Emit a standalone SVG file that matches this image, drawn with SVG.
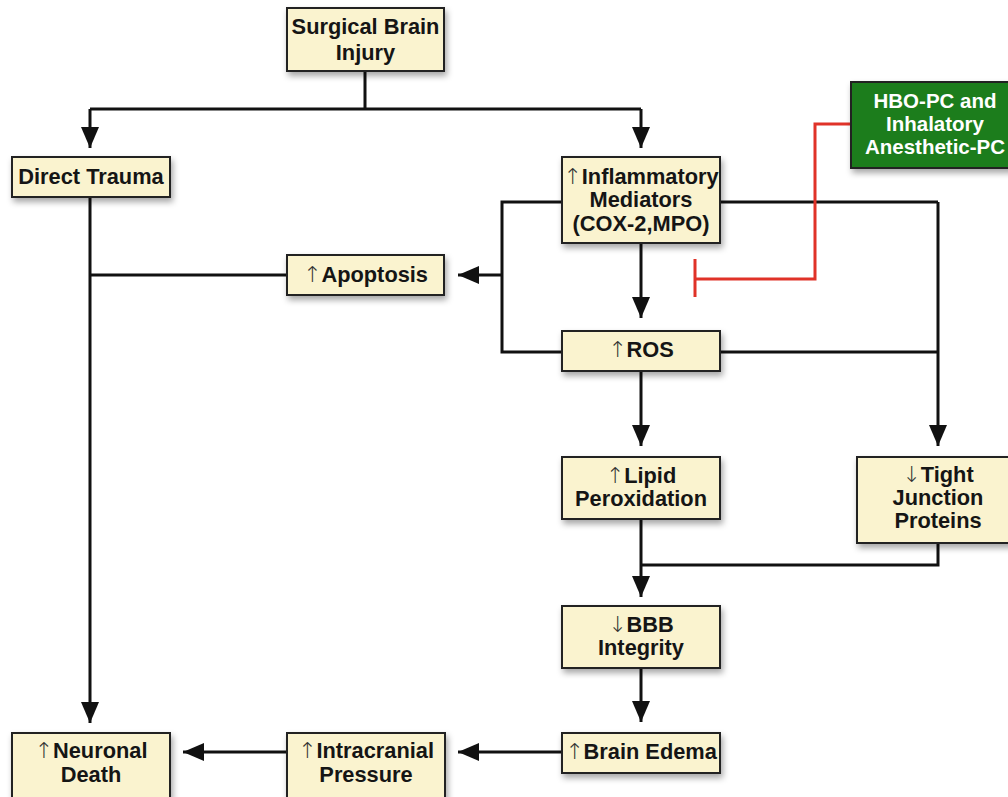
<svg xmlns="http://www.w3.org/2000/svg" width="1008" height="797" viewBox="0 0 1008 797">
<defs>
<filter id="sh" x="-10%" y="-10%" width="130%" height="140%">
<feDropShadow dx="2" dy="4" stdDeviation="3" flood-color="#000" flood-opacity="0.35"/>
</filter>
<marker id="ah" markerUnits="userSpaceOnUse" markerWidth="22" markerHeight="18" refX="21" refY="9" orient="auto">
<path d="M0,0 L21,9 L0,18 z" fill="#111"/>
</marker>
<style>
.box{fill:#faf3cf;stroke:#222;stroke-width:2;filter:url(#sh)}
.gbox{fill:#1a7d1f;stroke:#222;stroke-width:2;filter:url(#sh)}
text{font-family:"Liberation Sans",Arial,sans-serif;font-weight:bold;font-size:21.8px;fill:#151515;text-anchor:middle}
.w{fill:#fff;font-size:20.5px}
.ar{font-family:"DejaVu Sans",sans-serif;font-weight:200;font-size:22px;fill:#333}
.c{fill:none;stroke:#111;stroke-width:3}
.ca{fill:none;stroke:#111;stroke-width:3;marker-end:url(#ah)}
.r{fill:none;stroke:#e03228;stroke-width:3}
</style>
</defs>
<g id="connectors">
<path class="c" d="M365,71 V109 M90,109 H641"/>
<path class="ca" d="M90,109 V148"/>
<path class="ca" d="M641,109 V148"/>
<path class="ca" d="M90,197 V723"/>
<path class="c" d="M90,275 H287"/>
<path class="c" d="M562,202 H502 V352 H562"/>
<path class="ca" d="M502,275 H458"/>
<path class="ca" d="M641,243 V318"/>
<path class="c" d="M720,202 H938 M720,352 H938"/>
<path class="ca" d="M938,202 V446"/>
<path class="ca" d="M641,370 V446"/>
<path class="ca" d="M641,519 V597"/>
<path class="c" d="M938,543 V565 H641"/>
<path class="ca" d="M641,668 V722"/>
<path class="ca" d="M562,752 H458"/>
<path class="ca" d="M287,752 H183"/>
<path class="r" d="M851,124 H815 V279 H695 M695,259 V297"/>
</g>
<g id="surgical"><rect class="box" x="287" y="8" width="157" height="63"/><text x="365.5" y="34">Surgical Brain</text><text x="365.5" y="60">Injury</text></g>
<g id="direct"><rect class="box" x="12" y="157" width="158" height="40"/><text x="91" y="184">Direct Trauma</text></g>
<g id="inflam"><rect class="box" x="562" y="157" width="158" height="86"/><text x="641" y="184"><tspan class="ar">↑</tspan>Inflammatory</text><text x="641" y="207">Mediators</text><text x="641" y="231">(COX-2,MPO)</text></g>
<g id="hbo"><rect class="gbox" x="851" y="82" width="168" height="86"/><text class="w" x="935" y="108">HBO-PC and</text><text class="w" x="935" y="131">Inhalatory</text><text class="w" x="935" y="154">Anesthetic-PC</text></g>
<g id="apoptosis"><rect class="box" x="287" y="255" width="157" height="40"/><text x="365.5" y="282"><tspan class="ar">↑</tspan>Apoptosis</text></g>
<g id="ros"><rect class="box" x="562" y="331" width="158" height="40"/><text x="641" y="357"><tspan class="ar">↑</tspan>ROS</text></g>
<g id="lipid"><rect class="box" x="562" y="457" width="158" height="62"/><text x="641" y="483"><tspan class="ar">↑</tspan>Lipid</text><text x="641" y="506">Peroxidation</text></g>
<g id="tight"><rect class="box" x="857" y="457" width="163" height="86"/><text x="938" y="482"><tspan class="ar">↓</tspan>Tight</text><text x="938" y="505">Junction</text><text x="938" y="528">Proteins</text></g>
<g id="bbb"><rect class="box" x="562" y="606" width="158" height="62"/><text x="641" y="632"><tspan class="ar">↓</tspan>BBB</text><text x="641" y="655">Integrity</text></g>
<g id="edema"><rect class="box" x="562" y="733" width="158" height="40"/><text x="641" y="759"><tspan class="ar">↑</tspan>Brain Edema</text></g>
<g id="icp"><rect class="box" x="287" y="733" width="158" height="70"/><text x="366" y="758"><tspan class="ar">↑</tspan>Intracranial</text><text x="366" y="782">Pressure</text></g>
<g id="neuronal"><rect class="box" x="12" y="733" width="158" height="70"/><text x="91" y="758"><tspan class="ar">↑</tspan>Neuronal</text><text x="91" y="782">Death</text></g>
</svg>
